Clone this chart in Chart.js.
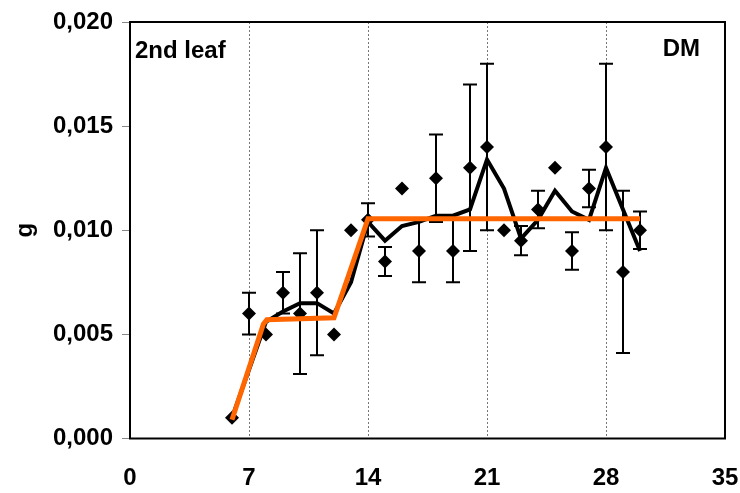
<!DOCTYPE html>
<html>
<head>
<meta charset="utf-8">
<script src="https://cdn.jsdelivr.net/npm/chart.js@4"></script>
<style>
  html, body { margin: 0; padding: 0; background: #fff; }
  #wrap { width: 740px; height: 493px; }
</style>
</head>
<body>
<div id="wrap"><canvas id="dmChart"></canvas></div>
<script>
// days after sowing / measured dry mass of the 2nd leaf (g)
const days = [6, 7, 8, 9, 10, 11, 12, 13, 14, 15, 16, 17, 18, 19, 20, 21, 22, 23, 24, 25, 26, 27, 28, 29, 30];
const dmMean = [0.0010, 0.0060, 0.0050, 0.0070, 0.0060, 0.0070, 0.0050, 0.0100, 0.0105, 0.0085, 0.0120, 0.0090, 0.0125, 0.0090, 0.0130, 0.0140, 0.0100, 0.0095, 0.0110, 0.0130, 0.0090, 0.0120, 0.0140, 0.0080, 0.0100];
const dmErr = [0, 0.0010, 0, 0.0010, 0.0029, 0.0030, 0, 0, 0.0008, 0.0007, 0, 0.0015, 0.0021, 0.0015, 0.0040, 0.0040, 0, 0.0007, 0.0009, 0, 0.0009, 0.0009, 0.0040, 0.0039, 0.0009];

// running mean (black line)
const meanDays = [6, 7, 8, 9, 10, 11, 12, 13, 14, 15, 16, 17, 18, 19, 20, 21, 22, 23, 24, 25, 26, 27, 28, 29, 30];
const meanLine = [0.0010, 0.0033, 0.0056, 0.0061, 0.0065, 0.0065, 0.0060, 0.0075, 0.0104, 0.0095, 0.0102, 0.0104, 0.0107, 0.0107, 0.0110, 0.0134, 0.0120, 0.0096, 0.0105, 0.0119, 0.0109, 0.0105, 0.0130, 0.0110, 0.0090];

// fitted segments (orange line)
const fitDays = [6, 7.85, 8.05, 12, 14, 30];
const fitLine = [0.0009, 0.0055, 0.0057, 0.0058, 0.01055, 0.01055];

const xTicks = [0, 7, 14, 21, 28, 35];

const toPts = (xs, ys) => xs.map((x, i) => ({ x: x, y: ys[i] }));

document.addEventListener("DOMContentLoaded", () => {

  Chart.defaults.font.family = "'Liberation Sans', Arial, sans-serif";
  Chart.defaults.font.weight = "bold";
  Chart.defaults.color = "#000";

  /* error bars under the markers */
  const errorBars = {
    id: "errorBars",
    beforeDatasetsDraw(chart) {
      const { ctx, scales: { x, y } } = chart;
      ctx.save();
      ctx.strokeStyle = "#000";
      ctx.lineWidth = 2;
      days.forEach((d, i) => {
        if (!dmErr[i]) return;
        const px = x.getPixelForValue(d);
        const top = y.getPixelForValue(dmMean[i] + dmErr[i]);
        const bot = y.getPixelForValue(dmMean[i] - dmErr[i]);
        ctx.beginPath();
        ctx.moveTo(px, top); ctx.lineTo(px, bot);
        ctx.moveTo(px - 7, top); ctx.lineTo(px + 7, top);
        ctx.moveTo(px - 7, bot); ctx.lineTo(px + 7, bot);
        ctx.stroke();
      });
      ctx.restore();
    }
  };

  /* frame + corner labels */
  const frame = {
    id: "frame",
    afterDraw(chart) {
      const { ctx, chartArea: a } = chart;
      ctx.save();
      ctx.strokeStyle = "#000";
      ctx.lineWidth = 2;
      ctx.strokeRect(a.left, a.top, a.right - a.left, a.bottom - a.top);
      ctx.font = "bold 24px 'Liberation Sans', Arial, sans-serif";
      ctx.fillStyle = "#000";
      ctx.textBaseline = "middle";
      ctx.textAlign = "left";
      ctx.fillText("2nd leaf", a.left + 5, 51);
      ctx.textAlign = "right";
      ctx.fillText("DM", a.right - 25, 49);
      ctx.restore();
    }
  };

  new Chart(document.getElementById("dmChart"), {
    type: "scatter",
    data: {
      datasets: [
        {
          label: "fit",
          type: "line",
          data: toPts(fitDays, fitLine),
          borderColor: "#FF6600",
          borderWidth: 5,
          pointRadius: 0,
          tension: 0,
          order: 0
        },
        {
          label: "mean",
          type: "line",
          data: toPts(meanDays, meanLine),
          borderColor: "#000",
          borderWidth: 4,
          pointRadius: 0,
          tension: 0,
          order: 1
        },
        {
          label: "DM",
          data: toPts(days, dmMean),
          pointStyle: "rectRot",
          pointRadius: 7,
          backgroundColor: "#000",
          borderColor: "#000",
          borderWidth: 0,
          order: 2
        }
      ]
    },
    options: {
      responsive: true,
      maintainAspectRatio: false,
      animation: false,
      layout: { padding: { top: 22, right: 15, left: 0, bottom: 0 } },
      plugins: {
        legend: { display: false },
        tooltip: { enabled: false }
      },
      scales: {
        x: {
          type: "linear",
          min: 0,
          max: 35,
          afterBuildTicks: axis => { axis.ticks = xTicks.map(v => ({ value: v })); },
          afterFit: axis => {
            axis.height = 54.5;
            axis.paddingLeft = 0;
            axis.paddingRight = 0;
          },
          border: { display: false },
          grid: {
            drawTicks: false,
            color: c => (c.tick.value === 0 || c.tick.value === 35) ? "rgba(0,0,0,0)" : "#777",
            lineWidth: 1
          },
          ticks: {
            padding: 25,
            font: { size: 24, weight: "bold" },
            color: "#000"
          }
        },
        y: {
          min: 0,
          max: 0.020,
          ticks: {
            stepSize: 0.005,
            padding: 9,
            font: { size: 24, weight: "bold" },
            color: "#000",
            callback: v => v.toFixed(3).replace(".", ",")
          },
          afterFit: axis => {
            axis.width = 130;
            axis.paddingTop = 0;
            axis.paddingBottom = 0;
          },
          border: { display: false },
          grid: {
            drawOnChartArea: false,
            drawTicks: true,
            tickLength: 8,
            color: "#888",
            lineWidth: 1
          },
          title: {
            display: true,
            text: "g",
            font: { size: 24, weight: "bold" },
            color: "#000",
            padding: { top: 11, bottom: 0 }
          }
        }
      }
    },
    plugins: [errorBars, frame]
  });

  // dotted vertical grid lines
  const ch = Chart.getChart("dmChart");
  ch.options.scales.x.grid.borderDash = [2, 2];
  ch.options.scales.x.border = { display: false, dash: [2, 2] };
  ch.update();
});
</script>
</body>
</html>
